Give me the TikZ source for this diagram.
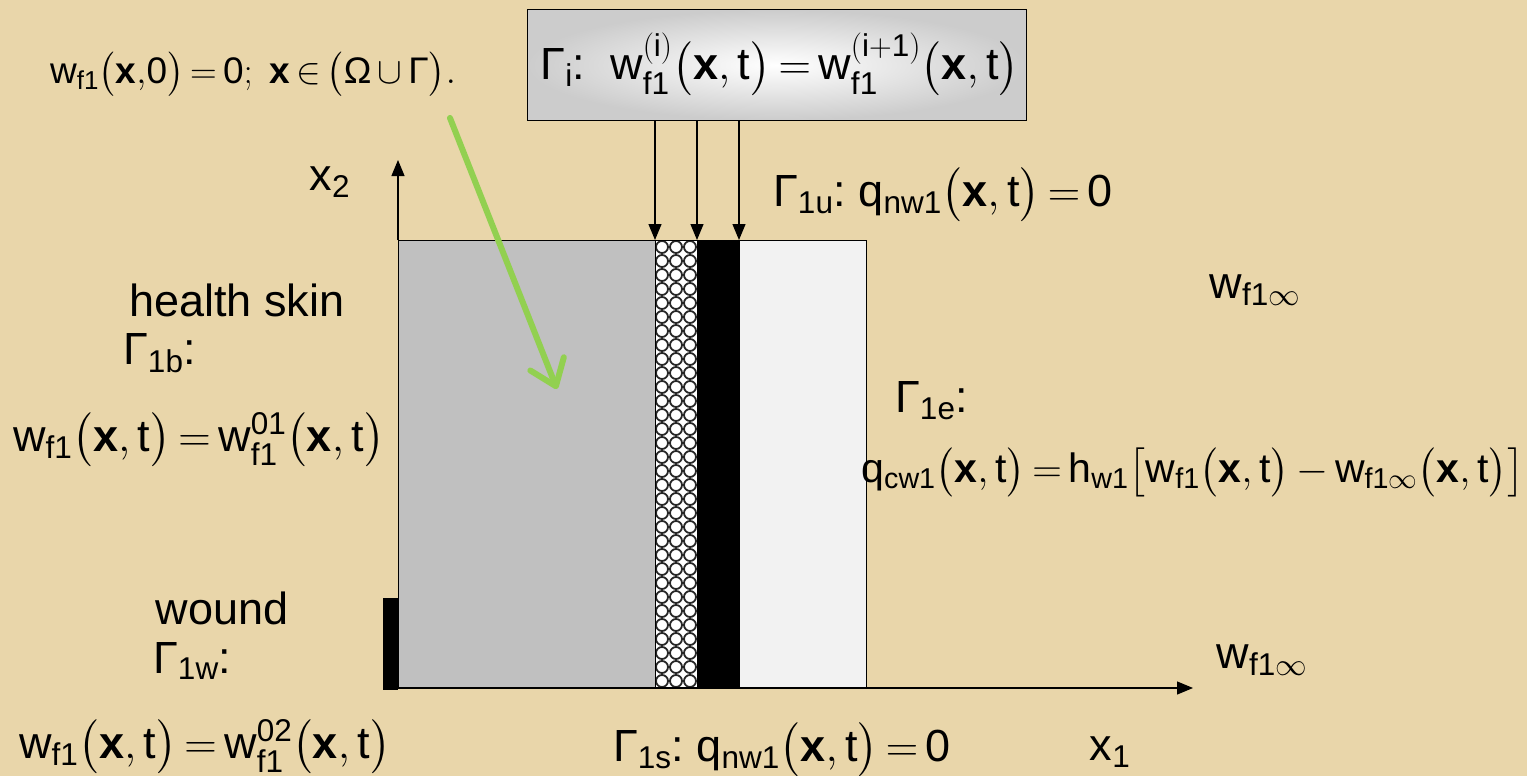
\RequirePackage{fix-cm}
\documentclass[tikz,border=0pt]{standalone}
\usepackage{amsmath,amssymb}
\usepackage{fontspec}
\setmainfont{Liberation Sans}
\usepackage{xcolor}
\usetikzlibrary{arrows.meta,positioning,calc}

\definecolor{parch}{RGB}{233,214,170}
\definecolor{skingray}{RGB}{192,192,192}
\definecolor{layerlight}{RGB}{242,242,242}
\definecolor{pointgreen}{RGB}{146,208,80}
\newcommand{\bigtxt}{\fontsize{45}{52}\selectfont}
\newcommand{\midtxt}{\fontsize{41}{48}\selectfont}
\newcommand{\smalltxt}{\fontsize{37}{44}\selectfont}
\newcommand{\vw}{\mathrm{w}}
\newcommand{\xt}{\bigl(\mathbf{x},\mathrm{t}\bigr)}
\newcommand{\eqs}{\,{=}\,}

\begin{document}
\begin{tikzpicture}[x=1pt,y=-1pt,
    lbl/.style={font=\bigtxt,inner sep=0pt},
    lblsmall/.style={font=\smalltxt,inner sep=0pt},
    layer/.style={draw=black,line width=1pt},
    arr/.style={-{Triangle[length=16pt,width=13pt]},line width=1.2pt}]
  \useasboundingbox[fill=parch] (0,0) rectangle (1527,776);
  % layers of the domain
  \draw[layer,fill=skingray] (398,240) rectangle (655,688);
  \fill[white] (655,240) rectangle (697,688);
  \begin{scope}
    \clip (655,240) rectangle (697,688);
    \foreach \cx in {662,676,690}
      \foreach \cy in {247,261,...,695}
        \draw[black!85,line width=1.8pt] (\cx,\cy) circle (6);
  \end{scope}
  \draw[layer] (655,240) rectangle (697,688);
  \draw[layer,fill=black] (697,240) rectangle (739,688);
  \draw[layer,fill=layerlight] (739,240) rectangle (866,688);
  \fill[black] (383,598) rectangle (398,690);
  \coordinate (s1) at (655,240);
  \coordinate (s2) at (697,240);
  \coordinate (s3) at (739,240);
  % axes
  \coordinate (org) at (398,688);
  \coordinate (x2end) at (398,160);
  \coordinate (x1end) at (1193,688);
  \draw[arr] (s1 -| org) -- (x2end);
  \draw[arr] (org) -- (x1end);
  \node[lbl] (x2lab) at (330,182) {x$_{\mathrm{2}}$};
  \node[lbl] (x1lab) at (1110,752) {x$_{\mathrm{1}}$};
  % interface box
  \node[draw=black,line width=1pt,inner color=white,outer color=gray!40,
        minimum width=499pt,minimum height=110pt] (ibox) at (776.5,65) {};
  \node[lbl] (ilab) at (780,64)
    {Γ$_{\mathrm{i}}$:\ \ $\vw^{(\mathrm{i})}_{\mathrm{f1}}\xt\eqs\vw^{(\mathrm{i+1})}_{\mathrm{f1}}\xt$};
  \foreach \s in {s1,s2,s3} \draw[arr] (ibox.south -| \s) -- (\s);
  % initial condition
  \node[lblsmall] (init) at (253,74)
    {$\vw_{\mathrm{f1}}\bigl(\mathbf{x},\!\mathrm{0}\bigr)\eqs\mathrm{0};\;\mathbf{x}\,{\in}\,\bigl(\text{Ω}\,{\cup}\,\text{Γ}\bigr).$};
  \coordinate (gstart) at (450,118);
  \coordinate (gend) at (557,389);
  \draw[pointgreen,line width=6pt,line cap=round,
        -{Straight Barb[length=24pt,width=36pt,line width=6pt,round]}] (gstart) -- (gend);
  % boundary conditions
  \node[lbl,anchor=west] (upper) at (773,195)
    {Γ$_{\mathrm{1u}}$:\ $\mathrm{q}_{\mathrm{nw1}}\xt\eqs\mathrm{0}$};
  \node[lbl] (inftop) at (1255,290) {$\vw_{\mathrm{f1}\infty}$};
  \node[lbl] (infbot) at (1262,660) {$\vw_{\mathrm{f1}\infty}$};
  \node[lbl] (health) at (237,300) {health skin};
  \node[lbl,anchor=west] (gb) at (123,353) {Γ$_{\mathrm{1b}}$:};
  \node[lbl] (eqb) at (199,440) {$\vw_{\mathrm{f1}}\xt\eqs\vw^{\mathrm{01}}_{\mathrm{f1}}\xt$};
  \node[lbl] (wound) at (222,608) {wound};
  \node[lbl,anchor=west] (gw) at (153,661) {Γ$_{\mathrm{1w}}$:};
  \node[lbl] (eqw) at (205,747) {$\vw_{\mathrm{f1}}\xt\eqs\vw^{\mathrm{02}}_{\mathrm{f1}}\xt$};
  \node[lbl,anchor=west] (ge) at (895,401) {Γ$_{\mathrm{1e}}$:};
  \node[lbl,font=\midtxt] (eqe) at (1193,472)
    {$\mathrm{q}_{\mathrm{cw1}}\xt\eqs\mathrm{h}_{\mathrm{w1}}\bigl[\vw_{\mathrm{f1}}\xt\,{-}\,\vw_{\mathrm{f1}\infty}\xt\bigr]$};
  \node[lbl] (eqs) at (782,750)
    {Γ$_{\mathrm{1s}}$:\ $\mathrm{q}_{\mathrm{nw1}}\xt\eqs\mathrm{0}$};
\end{tikzpicture}
\end{document}
